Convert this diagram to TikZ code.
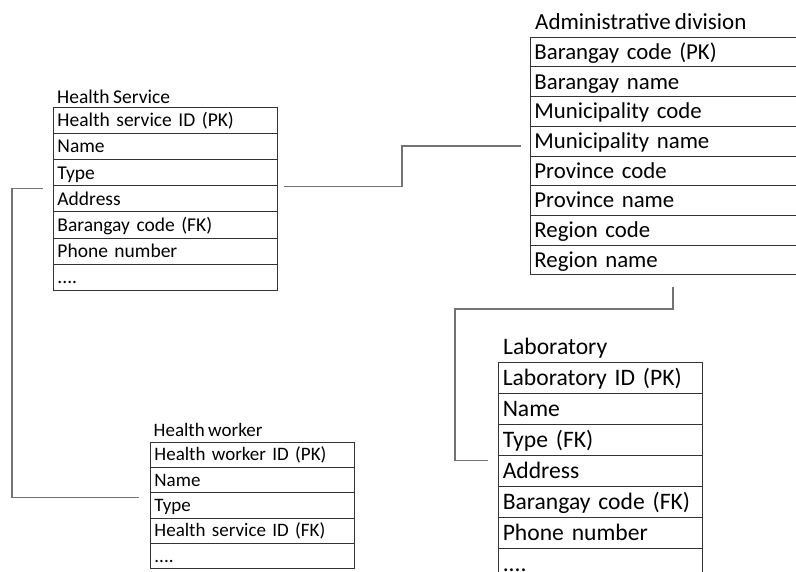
\documentclass[tikz,border=0pt]{standalone}
\usepackage{fontspec}
\setmainfont[WordSpace=0.8]{Carlito}
\newcommand\myfourdots{....}
\tikzset{
  rowbox/.style={draw=black!80, line width=0.9pt, anchor=north west, inner xsep=4pt, inner ysep=0pt, align=left, text depth=0pt},
  titlelbl/.style={anchor=base west, inner sep=0pt},
  conn/.style={draw=black!55, line width=1.1pt}
}
\begin{document}
\begin{tikzpicture}[x=1pt,y=1pt]
\useasboundingbox (0,0) rectangle (796,-571);
% Health Service
\node[titlelbl, font=\fontsize{19.5}{22}\selectfont] (hsT) at (57,-103) {Health Service};
\foreach \t [count=\i] in {Health service ID (PK),Name,Type,Address,Barangay code (FK),Phone number,\myfourdots}
  \node[rowbox, text width=216pt, minimum height=26.1pt, text height=12.6pt, font=\fontsize{19.5}{22}\selectfont] (hs\i) at (53,{-107-(\i-1)*26.1}) {\t};
% Administrative division
\node[titlelbl, font=\fontsize{23}{26}\selectfont] (adT) at (535,-29) {Administrative division};
\foreach \t [count=\i] in {Barangay code (PK),Barangay name,Municipality code,Municipality name,Province code,Province name,Region code,Region name}
  \node[rowbox, text width=272pt, minimum height=29.7pt, text height=14.7pt, font=\fontsize{22.8}{25}\selectfont] (ad\i) at (530,{-36.7-(\i-1)*29.7}) {\t};
% Laboratory
\node[titlelbl, font=\fontsize{23.6}{26}\selectfont] (lbT) at (503,-354.5) {Laboratory};
\foreach \t [count=\i] in {Laboratory ID (PK),Name,Type (FK),Address,Barangay code (FK),Phone number,\myfourdots}
  \node[rowbox, text width=196pt, minimum height=31pt, text height=15.2pt, font=\fontsize{23.6}{26}\selectfont] (lb\i) at (498.3,{-361.7-(\i-1)*31}) {\t};
% Health worker
\node[titlelbl, font=\fontsize{19}{21}\selectfont] (hwT) at (153.5,-436.7) {Health worker};
\foreach \t [count=\i] in {Health worker ID (PK),Name,Type,Health service ID (FK),\myfourdots}
  \node[rowbox, text width=196pt, minimum height=25.3pt, text height=12.2pt, font=\fontsize{19}{21}\selectfont] (hw\i) at (150,{-441.7-(\i-1)*25.3}) {\t};
% connectors
\coordinate (c1s) at ([xshift=6pt,yshift=-1.5pt]hs4.north east);
\coordinate (c1j) at (402,-146);
\coordinate (c1e) at (521,-146);
\draw[conn] (c1s) -| (c1j) -- (c1e);
\coordinate (c2s) at ([xshift=-10pt,yshift=-3pt]hs4.north west);
\coordinate (c2j) at (12,-300);
\coordinate (c2e) at ([xshift=-11pt,yshift=-5pt]hw3.north west);
\draw[conn] (c2s) -| (c2j) |- (c2e);
\coordinate (c3s) at (673,-287);
\coordinate (c3j) at (455,-309);
\coordinate (c3e) at ([xshift=-10pt,yshift=-6pt]lb4.north west);
\draw[conn] (c3s) |- (c3j) |- (c3e);
\end{tikzpicture}
\end{document}
